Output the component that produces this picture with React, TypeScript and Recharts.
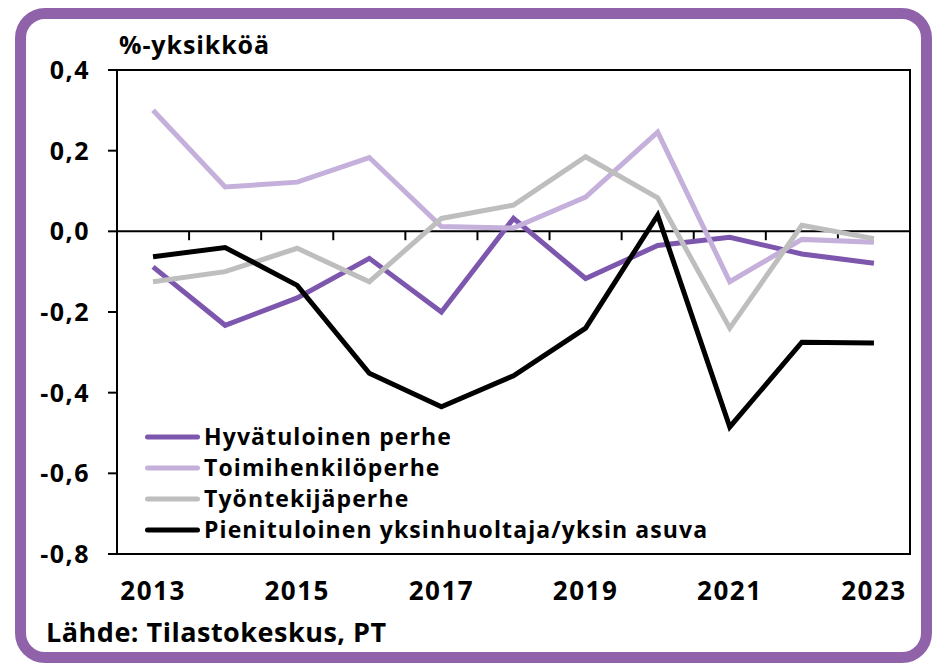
import { Legend, Line, LineChart, ReferenceArea, ReferenceLine, XAxis, YAxis } from "recharts";

const years = [2013, 2014, 2015, 2016, 2017, 2018, 2019, 2020, 2021, 2022, 2023];

const hyvatuloinen = [-0.088, -0.233, -0.165, -0.067, -0.2, 0.032, -0.117, -0.035, -0.015, -0.056, -0.079];
const toimihenkilo = [0.3, 0.11, 0.122, 0.183, 0.012, 0.008, 0.085, 0.246, -0.125, -0.02, -0.027];
const tyontekija = [-0.125, -0.1, -0.042, -0.125, 0.032, 0.065, 0.185, 0.083, -0.24, 0.015, -0.018];
const pienituloinen = [-0.063, -0.04, -0.134, -0.352, -0.435, -0.358, -0.24, 0.04, -0.485, -0.275, -0.277];

const seriesNames = [
  "Hyvätuloinen perhe",
  "Toimihenkilöperhe",
  "Työntekijäperhe",
  "Pienituloinen yksinhuoltaja/yksin asuva"
];

const xTicks = [2013, 2015, 2017, 2019, 2021, 2023];
const yTicks = [-0.8, -0.6, -0.4, -0.2, 0, 0.2, 0.4];

const FONT = "'Open Sans', sans-serif";

const data = years.map((year, i) => ({
  year,
  hyva: hyvatuloinen[i],
  toimi: toimihenkilo[i],
  tyo: tyontekija[i],
  pieni: pienituloinen[i]
}));

// small tick marks on the zero line, between the years
const yearBounds = years.slice(1).map((y) => y - 0.5);

function formatTick(v: number) {
  const s = v.toFixed(1).replace(".", ",");
  return s === "-0,0" ? "0,0" : s;
}

function LegendContent({ payload }: any) {
  // keep the series order, recharts sorts the payload by name
  const items = [...(payload || [])].sort(
    (a: any, b: any) => seriesNames.indexOf(a.value) - seriesNames.indexOf(b.value)
  );
  return (
    <svg width={600} height={130} style={{ display: "block" }}>
      {items.map((p: any, i: number) => (
        <g key={p.value}>
          <line
            x1={7.5}
            x2={57.5}
            y1={17 + 31 * i}
            y2={17 + 31 * i}
            stroke={p.color}
            strokeWidth={5}
            strokeLinecap="round"
          />
          <text
            x={64}
            y={25 + 31 * i}
            fontFamily={FONT}
            fontWeight={700}
            fontSize={23}
            letterSpacing={1.1}
            fill="#000"
          >
            {p.value}
          </text>
        </g>
      ))}
    </svg>
  );
}

export default function App() {
  return (
    <div
      style={{
        position: "absolute",
        left: 0,
        top: 0,
        width: 932,
        height: 663,
        background: "#fff",
        fontFamily: FONT
      }}
    >
      <div
        style={{
          position: "absolute",
          left: 15,
          top: 8,
          width: 917,
          height: 655,
          boxSizing: "border-box",
          border: "11px solid #9062a9",
          borderRadius: 30
        }}
      />

      <div style={{ position: "absolute", left: 0, top: 0 }}>
        <LineChart
          width={932}
          height={663}
          data={data}
          margin={{ top: 70, right: 22, left: 0, bottom: 0 }}
        >
          <ReferenceArea
            x1={2012.5}
            x2={2023.5}
            y1={-0.8}
            y2={0.4}
            fill="none"
            stroke="#000"
            strokeWidth={2}
            fillOpacity={0}
          />
          <ReferenceLine y={0} stroke="#000" strokeWidth={2} />
          {yearBounds.map((b) => (
            <ReferenceLine
              key={b}
              segment={[
                { x: b, y: 0 },
                { x: b, y: -0.022 }
              ]}
              stroke="#000"
              strokeWidth={2}
            />
          ))}

          <XAxis
            dataKey="year"
            type="number"
            domain={[2012.5, 2023.5]}
            ticks={xTicks}
            height={109}
            axisLine={false}
            tickLine={false}
            tickSize={0}
            tickMargin={28}
            tick={{ fontFamily: FONT, fontWeight: 700, fontSize: 26, fill: "#000", letterSpacing: 1.5 }}
          />
          <YAxis
            type="number"
            domain={[-0.8, 0.4]}
            ticks={yTicks}
            width={117}
            tickFormatter={formatTick}
            axisLine={{ stroke: "#000", strokeWidth: 2 }}
            tickLine={{ stroke: "#000", strokeWidth: 2 }}
            tickSize={9}
            tickMargin={18}
            tick={{ fontFamily: FONT, fontWeight: 700, fontSize: 25, fill: "#000", letterSpacing: 1.5 }}
          />

          <Legend
            layout="vertical"
            align="center"
            verticalAlign="middle"
            content={<LegendContent />}
            wrapperStyle={{ left: 140, top: 420, width: 600, height: 130 }}
          />

          <Line
            dataKey="hyva"
            name={seriesNames[0]}
            stroke="#7d56ae"
            strokeWidth={5}
            dot={false}
            isAnimationActive={false}
          />
          <Line
            dataKey="toimi"
            name={seriesNames[1]}
            stroke="#c4b0da"
            strokeWidth={5}
            dot={false}
            isAnimationActive={false}
          />
          <Line
            dataKey="tyo"
            name={seriesNames[2]}
            stroke="#bebebe"
            strokeWidth={5}
            dot={false}
            isAnimationActive={false}
          />
          <Line
            dataKey="pieni"
            name={seriesNames[3]}
            stroke="#000"
            strokeWidth={5}
            dot={false}
            isAnimationActive={false}
          />
        </LineChart>
      </div>

      <svg
        width={932}
        height={663}
        style={{ position: "absolute", left: 0, top: 0, pointerEvents: "none" }}
      >
        <text x={119} y={54} fontFamily={FONT} fontWeight={700} fontSize={25} fill="#000" letterSpacing={0.9}>
          %-yksikköä
        </text>
        <text x={46} y={642} fontFamily={FONT} fontWeight={700} fontSize={27} fill="#000" letterSpacing={0.5}>
          Lähde: Tilastokeskus, PT
        </text>
      </svg>
    </div>
  );
}
